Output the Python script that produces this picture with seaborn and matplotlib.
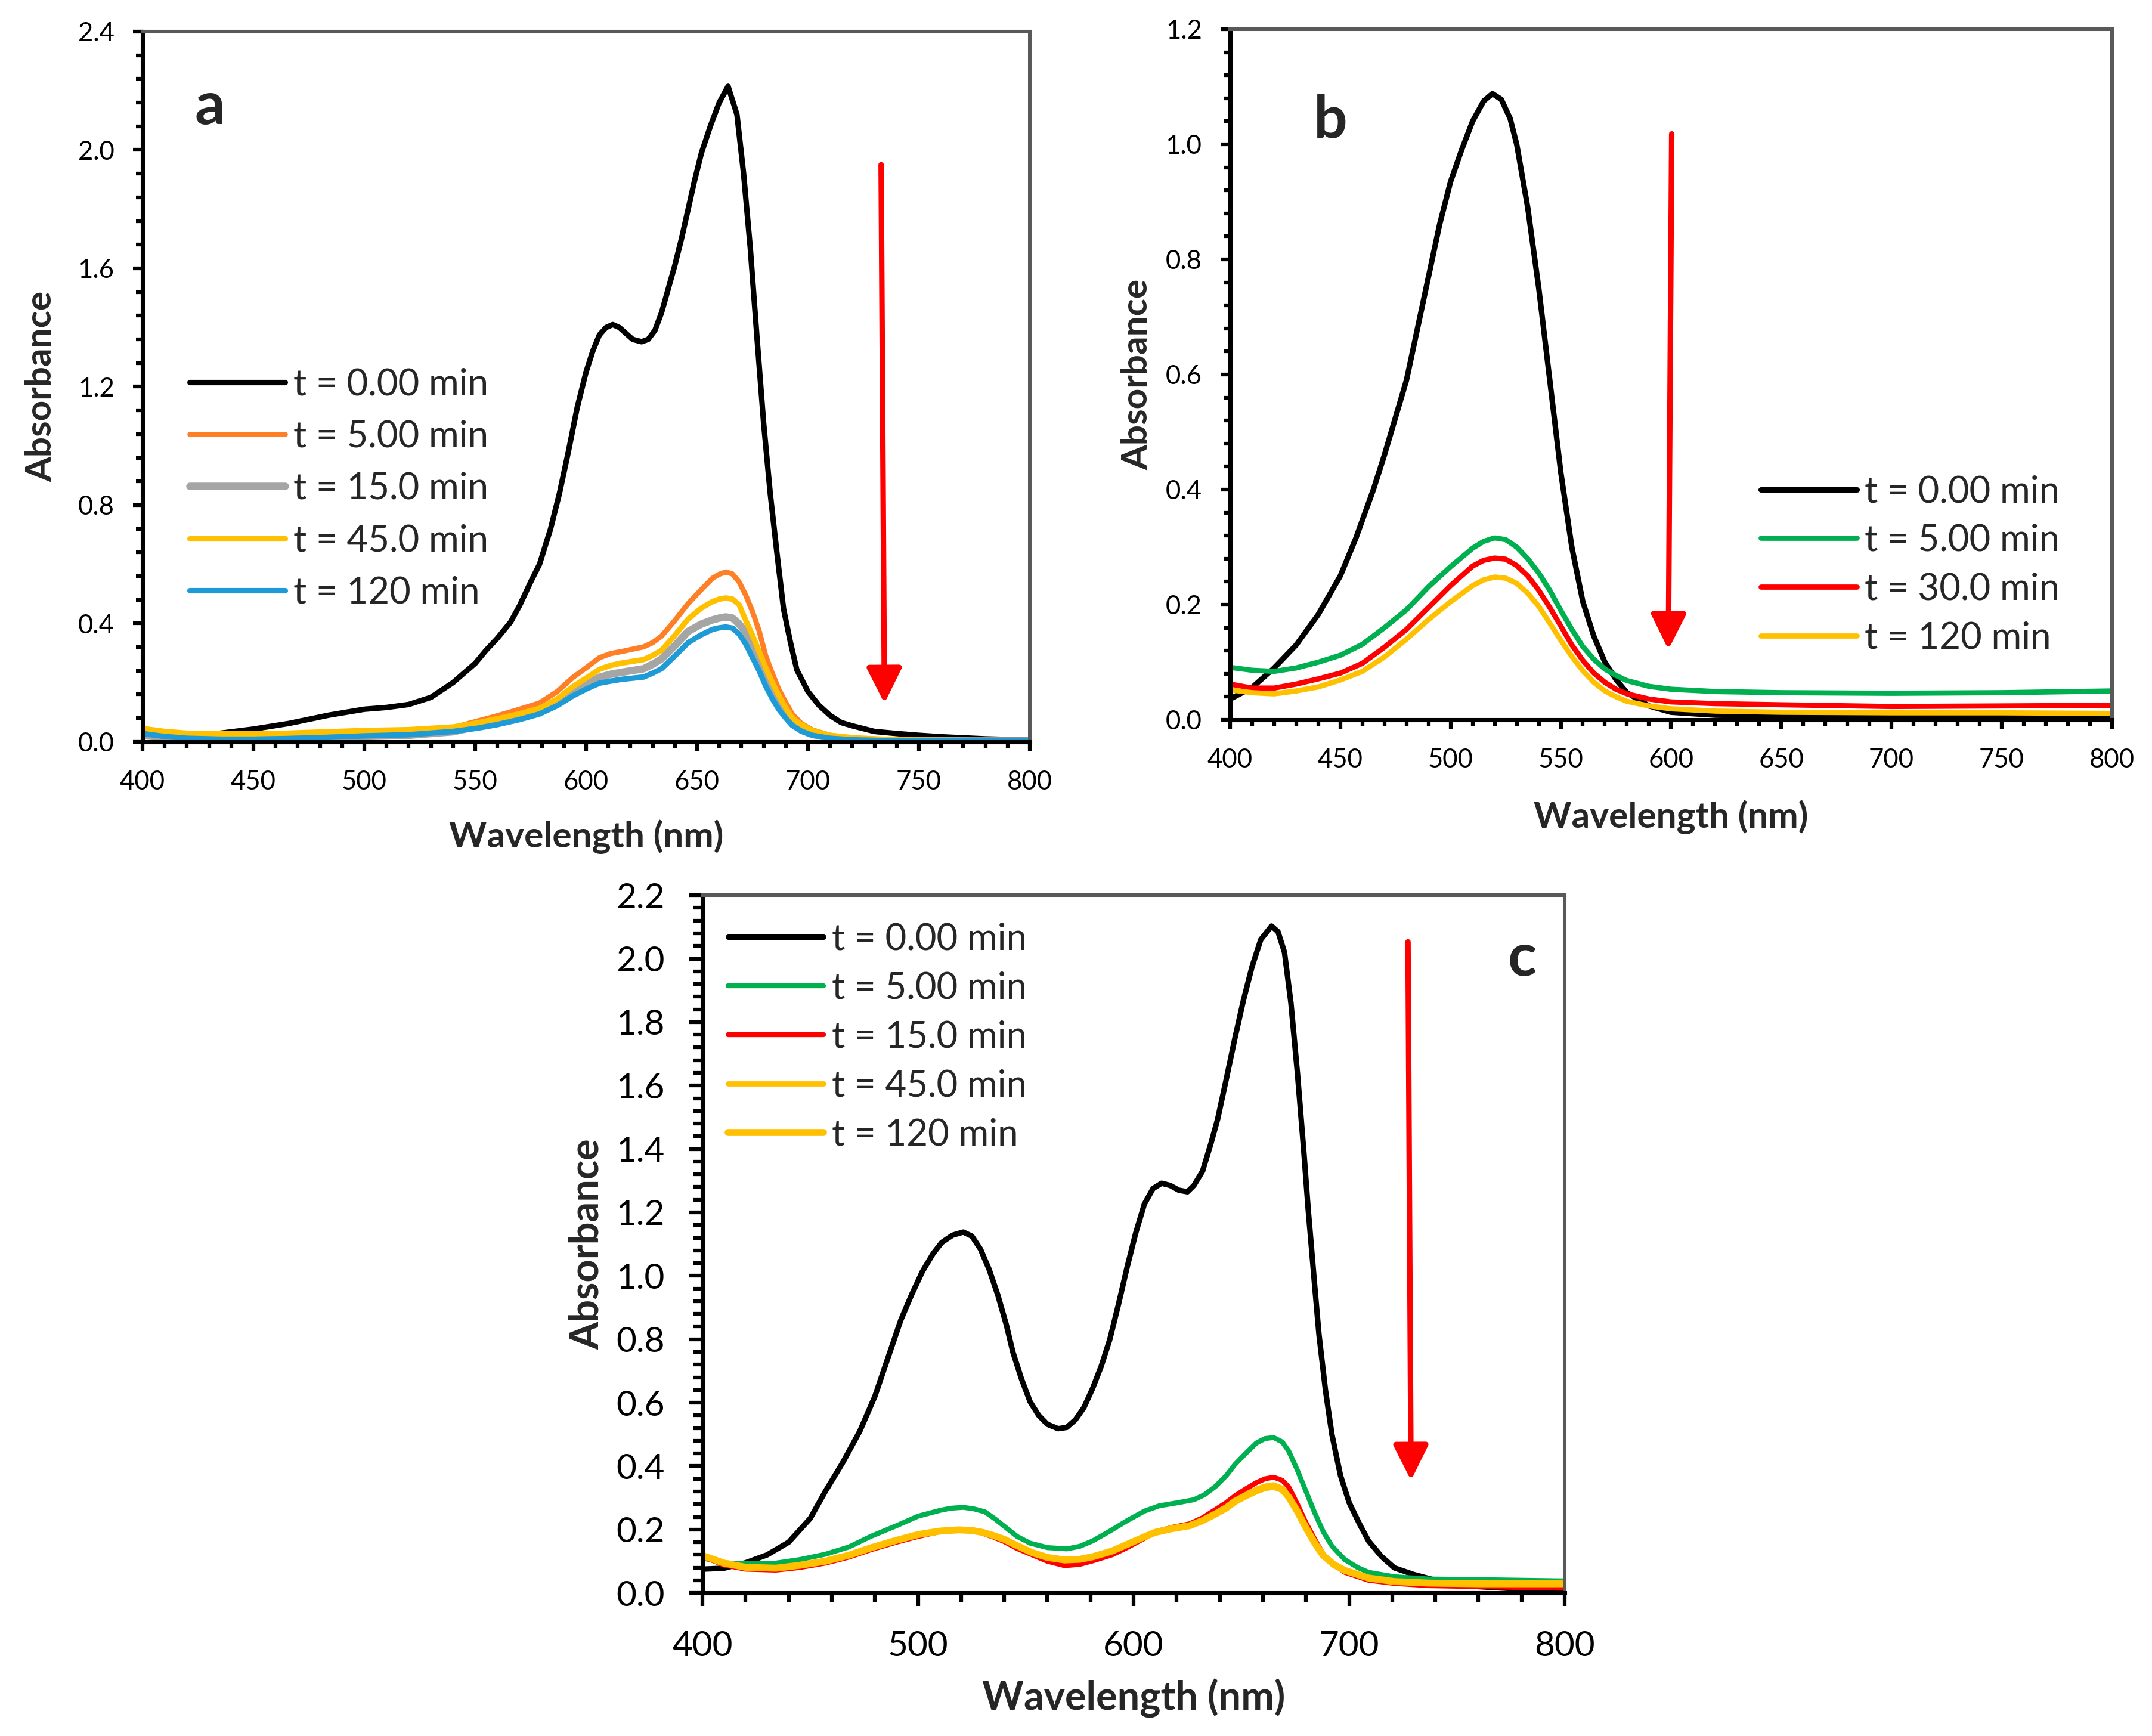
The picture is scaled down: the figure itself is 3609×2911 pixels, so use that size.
import matplotlib
matplotlib.use("Agg")
import matplotlib.pyplot as plt
import seaborn as sns
import pandas as pd
from matplotlib.ticker import MultipleLocator, FormatStrFormatter

# ---------------- data (wavelength nm, absorbance) ----------------
# Panel a
a_labels = ["t = 0.00 min", "t = 5.00 min", "t = 15.0 min", "t = 45.0 min", "t = 120 min"]
a_colors = ["#000000", "#FF7F27", "#A5A5A5", "#FFC000", "#1E9BD7"]
a_t0 = [(400,0.022),(410,0.018),(420,0.018),(434,0.028),(450,0.043),(466,0.062),(484,0.09),(500,0.11),
        (510,0.116),(520,0.126),(530,0.15),(540,0.2),(550,0.265),(555,0.31),(560,0.35),(566,0.405),
        (570,0.46),(575,0.54),(579,0.6),(584,0.72),(588,0.84),(592,0.98),(596,1.13),(600,1.25),
        (603,1.32),(606,1.375),(609,1.40),(612,1.41),(615,1.40),(618,1.38),(621,1.36),(625,1.352),
        (628,1.36),(631,1.39),(634,1.45),(637,1.53),(640,1.61),(643,1.70),(646,1.80),(649,1.90),
        (652,1.99),(656,2.08),(660,2.16),(664,2.215),(668,2.12),(671,1.92),(674,1.67),(677,1.37),
        (680,1.08),(683,0.84),(686,0.64),(689,0.45),(692,0.34),(695,0.243),(700,0.17),(705,0.123),
        (710,0.089),(715,0.065),(720,0.054),(730,0.035),(740,0.028),(750,0.022),(760,0.017),
        (780,0.01),(800,0.006)]
a_t5 = [(400,0.040),(410,0.032),(420,0.026),(435,0.024),(450,0.025),(465,0.028),(480,0.031),(500,0.035),
        (520,0.038),(540,0.048),(551,0.070),(560,0.088),(570,0.110),(579,0.131),(587,0.170),(594,0.217),
        (600,0.250),(606,0.284),(611,0.298),(616,0.305),(621,0.313),(626,0.321),(630,0.335),(634,0.357),
        (640,0.410),(646,0.467),(652,0.515),(657,0.553),(660,0.566),(663,0.574),(666,0.567),(669,0.540),
        (672,0.495),(675,0.44),(678,0.375),(681,0.29),(684,0.23),(687,0.175),(690,0.133),(693,0.093),
        (697,0.062),(702,0.040),(710,0.022),(720,0.012),(735,0.006),(750,0.004),(775,0.003),(800,0.003)]
a_t15 = [(400,0.022),(410,0.014),(420,0.010),(435,0.008),(450,0.008),(465,0.010),(480,0.013),(500,0.018),
         (520,0.022),(540,0.034),(551,0.052),(560,0.066),(570,0.083),(579,0.101),(587,0.132),(594,0.168),
         (600,0.193),(606,0.218),(611,0.228),(616,0.235),(621,0.241),(626,0.247),(630,0.262),(634,0.280),
         (640,0.325),(646,0.373),(652,0.398),(657,0.412),(660,0.418),(663,0.422),(666,0.418),(669,0.398),
         (672,0.37),(675,0.305),(678,0.26),(681,0.205),(684,0.16),(687,0.118),(690,0.087),(693,0.06),
         (697,0.040),(702,0.025),(710,0.013),(720,0.008),(735,0.005),(750,0.004),(775,0.003),(800,0.003)]
a_t45 = [(400,0.045),(410,0.035),(420,0.029),(435,0.027),(450,0.027),(465,0.029),(480,0.033),(500,0.038),
         (520,0.041),(540,0.050),(551,0.064),(560,0.078),(570,0.095),(579,0.113),(587,0.145),(594,0.186),
         (600,0.215),(606,0.245),(611,0.258),(616,0.266),(621,0.272),(626,0.278),(630,0.292),(634,0.309),
         (640,0.360),(646,0.415),(652,0.452),(657,0.474),(660,0.482),(663,0.486),(666,0.482),(669,0.463),
         (672,0.41),(675,0.36),(678,0.305),(681,0.25),(684,0.20),(687,0.155),(690,0.115),(693,0.08),
         (697,0.058),(702,0.038),(710,0.022),(720,0.014),(735,0.008),(750,0.006),(775,0.004),(800,0.004)]
a_t120 = [(400,0.028),(410,0.018),(420,0.012),(435,0.009),(450,0.009),(465,0.011),(480,0.014),(500,0.020),
          (520,0.024),(540,0.035),(551,0.046),(560,0.058),(570,0.075),(579,0.094),(587,0.122),(594,0.155),
          (600,0.178),(606,0.198),(611,0.205),(616,0.211),(621,0.215),(626,0.219),(630,0.232),(634,0.247),
          (640,0.290),(646,0.335),(652,0.362),(657,0.380),(660,0.385),(663,0.388),(666,0.384),(669,0.364),
          (672,0.33),(675,0.285),(678,0.24),(681,0.188),(684,0.145),(687,0.108),(690,0.08),(693,0.055),
          (697,0.036),(702,0.022),(710,0.012),(720,0.007),(735,0.004),(750,0.003),(775,0.003),(800,0.003)]

# Panel b
b_labels = ["t = 0.00 min", "t = 5.00 min", "t = 30.0 min", "t = 120 min"]
b_colors = ["#000000", "#00B050", "#FF0000", "#FFC000"]
b_t0 = [(400,0.036),(410,0.056),(420,0.09),(430,0.13),(440,0.183),(450,0.25),(457,0.315),(465,0.40),
        (470,0.46),(475,0.525),(480,0.59),(485,0.68),(490,0.77),(495,0.86),(500,0.935),(505,0.99),
        (510,1.04),(515,1.075),(519,1.088),(523,1.078),(527,1.045),(530,1.0),(535,0.89),(540,0.75),
        (545,0.59),(550,0.43),(555,0.30),(560,0.205),(565,0.145),(570,0.10),(575,0.07),(580,0.047),
        (590,0.024),(600,0.013),(620,0.008),(650,0.006),(700,0.005),(750,0.004),(800,0.003)]
b_t5 = [(400,0.091),(410,0.086),(420,0.084),(430,0.09),(440,0.10),(450,0.112),(460,0.131),(470,0.16),
        (480,0.191),(490,0.231),(500,0.266),(510,0.298),(515,0.31),(520,0.316),(525,0.313),(530,0.30),
        (535,0.28),(540,0.255),(545,0.225),(550,0.19),(555,0.157),(560,0.127),(565,0.105),(570,0.088),
        (575,0.077),(580,0.068),(590,0.058),(600,0.053),(620,0.049),(650,0.047),(700,0.046),(750,0.047),
        (800,0.05)]
b_t30 = [(400,0.062),(410,0.055),(420,0.055),(430,0.062),(440,0.071),(450,0.081),(460,0.098),(470,0.126),
         (480,0.157),(490,0.195),(500,0.233),(510,0.267),(515,0.277),(520,0.281),(525,0.279),(530,0.268),
         (535,0.25),(540,0.225),(545,0.195),(550,0.163),(555,0.13),(560,0.103),(565,0.081),(570,0.065),
         (575,0.053),(580,0.045),(590,0.036),(600,0.031),(620,0.028),(650,0.026),(700,0.023),(750,0.024),
         (800,0.025)]
b_t120 = [(400,0.052),(410,0.047),(420,0.045),(430,0.05),(440,0.057),(450,0.069),(460,0.084),(470,0.109),
          (480,0.14),(490,0.174),(500,0.205),(510,0.233),(515,0.243),(520,0.248),(525,0.246),(530,0.237),
          (535,0.22),(540,0.197),(545,0.168),(550,0.138),(555,0.11),(560,0.085),(565,0.065),(570,0.05),
          (575,0.04),(580,0.032),(590,0.024),(600,0.019),(620,0.015),(650,0.013),(700,0.012),(750,0.012),
          (800,0.011)]

# Panel c
c_labels = ["t = 0.00 min", "t = 5.00 min", "t = 15.0 min", "t = 45.0 min", "t = 120 min"]
c_colors = ["#000000", "#00B050", "#FF0000", "#FFC000", "#FFC000"]
c_t0 = [(400,0.075),(410,0.078),(420,0.095),(430,0.12),(440,0.16),(450,0.235),(457,0.32),(465,0.41),
        (473,0.51),(480,0.62),(484,0.70),(492,0.86),(497,0.94),(502,1.013),(507,1.07),(511,1.105),
        (516,1.128),(521,1.138),(525,1.125),(529,1.084),(533,1.02),(537,0.94),(541,0.845),(544,0.76),
        (548,0.675),(552,0.603),(556,0.56),(560,0.532),(565,0.518),(569,0.522),(573,0.546),(577,0.585),
        (581,0.645),(585,0.715),(589,0.80),(593,0.91),(597,1.027),(601,1.135),(605,1.226),(609,1.275),
        (613,1.292),(617,1.285),(621,1.27),(625,1.265),(628,1.285),(632,1.33),(636,1.42),(639,1.494),
        (643,1.62),(647,1.749),(651,1.87),(655,1.976),(659,2.06),(664,2.103),(667,2.085),(670,2.02),
        (673,1.86),(676,1.64),(679,1.39),(681,1.21),(684,0.97),(686,0.815),(689,0.64),(692,0.50),
        (696,0.37),(700,0.285),(705,0.215),(709,0.164),(715,0.115),(721,0.079),(730,0.058),(740,0.04),
        (750,0.028),(760,0.02),(780,0.012),(800,0.01)]
c_t5 = [(400,0.11),(410,0.095),(420,0.092),(434,0.094),(445,0.105),(457,0.122),(468,0.145),(478,0.178),
        (490,0.212),(500,0.242),(510,0.26),(515,0.267),(521,0.27),(526,0.265),(531,0.256),(536,0.232),
        (541,0.205),(546,0.178),(552,0.157),(560,0.143),(569,0.139),(575,0.147),(581,0.164),(589,0.195),
        (597,0.228),(605,0.258),(612,0.275),(620,0.284),(628,0.294),(633,0.31),(638,0.336),(643,0.37),
        (647,0.405),(652,0.44),(657,0.473),(661,0.487),(665,0.49),(669,0.476),(672,0.447),(676,0.387),
        (680,0.32),(684,0.253),(688,0.193),(692,0.148),(698,0.105),(704,0.08),(709,0.065),(721,0.051),
        (737,0.044),(760,0.042),(780,0.04),(800,0.038)]
c_t15 = [(400,0.115),(410,0.088),(420,0.075),(434,0.072),(445,0.08),(457,0.094),(468,0.113),(478,0.136),
         (490,0.16),(500,0.178),(510,0.193),(519,0.20),(525,0.197),(530,0.188),(535,0.176),(540,0.162),
         (546,0.14),(553,0.12),(560,0.10),(568,0.086),(575,0.09),(581,0.101),(590,0.12),(597,0.143),
         (605,0.172),(610,0.193),(618,0.207),(626,0.218),(632,0.237),(638,0.263),(643,0.285),(647,0.306),
         (652,0.328),(657,0.348),(661,0.36),(665,0.365),(669,0.355),(672,0.334),(676,0.28),(680,0.221),
         (684,0.17),(688,0.122),(693,0.09),(698,0.065),(709,0.04),(721,0.03),(737,0.023),(760,0.02),
         (780,0.017),(800,0.015)]
c_t45 = [(400,0.12),(410,0.095),(420,0.082),(434,0.079),(445,0.088),(457,0.101),(468,0.12),(478,0.143),
         (490,0.167),(500,0.185),(510,0.196),(519,0.20),(525,0.198),(530,0.192),(535,0.182),(540,0.17),
         (546,0.15),(553,0.128),(560,0.113),(568,0.105),(575,0.107),(581,0.115),(590,0.133),(597,0.154),
         (605,0.178),(610,0.193),(618,0.205),(626,0.214),(632,0.23),(638,0.252),(643,0.272),(647,0.292),
         (652,0.31),(657,0.327),(661,0.337),(665,0.341),(669,0.33),(672,0.306),(676,0.26),(680,0.207),
         (684,0.16),(688,0.119),(693,0.09),(698,0.072),(709,0.048),(721,0.037),(737,0.032),(760,0.03),
         (780,0.03),(800,0.03)]
c_t120 = [(400,0.118),(410,0.094),(420,0.081),(434,0.078),(445,0.087),(457,0.10),(468,0.119),(478,0.142),
          (490,0.166),(500,0.184),(510,0.195),(519,0.199),(525,0.197),(530,0.191),(535,0.181),(540,0.169),
          (546,0.149),(553,0.127),(560,0.112),(568,0.104),(575,0.106),(581,0.114),(590,0.132),(597,0.153),
          (605,0.177),(610,0.191),(618,0.203),(626,0.212),(632,0.228),(638,0.249),(643,0.268),(647,0.288),
          (652,0.306),(657,0.322),(661,0.332),(665,0.336),(669,0.326),(672,0.302),(676,0.257),(680,0.205),
          (684,0.158),(688,0.118),(693,0.089),(698,0.071),(709,0.047),(721,0.036),(737,0.031),(760,0.029),
          (780,0.029),(800,0.029)]

# ---------------- style ----------------
sns.set_style("ticks")
plt.rcParams["font.family"] = ["Lato", "DejaVu Sans"]
plt.rcParams["lines.solid_capstyle"] = "round"
plt.rcParams["lines.solid_joinstyle"] = "round"

W, H, DPI = 3609, 2911, 300
fig = plt.figure(figsize=(W / DPI, H / DPI), dpi=DPI)
fig.patch.set_facecolor("white")


def long_frame(series, labels):
    rows = []
    for lab, pts in zip(labels, series):
        for wl, ab in pts:
            rows.append({"Wavelength": wl, "Absorbance": ab, "series": lab})
    return pd.DataFrame(rows)


def draw_panel(rect, series, labels, colors, widths, ylim, ymaj, ymin, xmaj, xmin,
               tick_fs, lab_fs, tick_len, pad, ylab_x, xlab_y, leg_xy, leg_spacing,
               letter, letter_xy, arrow_from, arrow_to):
    ax = fig.add_axes(rect)
    df = long_frame(series, labels)
    for lab, col, lw in zip(labels, colors, widths):
        sub = df[df["series"] == lab]
        sns.lineplot(data=sub, x="Wavelength", y="Absorbance", ax=ax, color=col,
                     linewidth=lw, label=lab, sort=False, estimator=None)
    ax.set_xlim(400, 800)
    ax.set_ylim(*ylim)
    ax.xaxis.set_major_locator(MultipleLocator(xmaj))
    ax.xaxis.set_minor_locator(MultipleLocator(xmin))
    ax.yaxis.set_major_locator(MultipleLocator(ymaj))
    ax.yaxis.set_minor_locator(MultipleLocator(ymin))
    ax.yaxis.set_major_formatter(FormatStrFormatter("%.1f"))
    ax.xaxis.set_major_formatter(FormatStrFormatter("%d"))
    ax.tick_params(which="major", direction="out", length=tick_len[0], width=1.5,
                   labelsize=tick_fs, pad=pad, colors="black")
    ax.tick_params(which="minor", direction="out", length=tick_len[1], width=1.5, colors="black")
    for s in ("left", "bottom"):
        ax.spines[s].set_color("black")
        ax.spines[s].set_linewidth(1.7)
    for s in ("top", "right"):
        ax.spines[s].set_visible(True)
        ax.spines[s].set_color("#595959")
        ax.spines[s].set_linewidth(1.45)
    ax.set_xlabel("Wavelength (nm)", fontsize=lab_fs, fontweight="bold")
    ax.set_ylabel("Absorbance", fontsize=lab_fs, fontweight="bold")
    ax.xaxis.label.set_va("center")
    ax.yaxis.label.set_va("center")
    ax.xaxis.set_label_coords(0.5, xlab_y)
    ax.yaxis.set_label_coords(ylab_x, 0.5)
    ax.legend(loc="center left", bbox_to_anchor=leg_xy, frameon=False, fontsize=14.8,
              handlelength=2.6, handletextpad=0.22, labelspacing=leg_spacing,
              borderpad=0, borderaxespad=0)
    ax.text(letter_xy[0], letter_xy[1], letter, fontsize=24, fontweight="bold",
            ha="center", va="baseline")
    ax.annotate("", xy=arrow_to, xytext=arrow_from,
                arrowprops=dict(arrowstyle="-|>,head_length=0.4,head_width=0.2",
                                color="#FF0000", lw=2.2, mutation_scale=30,
                                shrinkA=0, shrinkB=0))
    return ax


draw_panel([0.0662, 0.5727, 0.4123, 0.4091],
           [a_t0, a_t5, a_t15, a_t45, a_t120], a_labels, a_colors,
           [2.2, 2.1, 3.0, 2.2, 2.2], (0, 2.4), 0.4, 0.08, 50, 10,
           10.5, 14.5, (3.8, 2.6), 7.5, -0.114, -0.134, (0.053, 0.3564), 0.49,
           "a", (430.4, 2.088), (733, 1.95), (734.5, 0.13))

draw_panel([0.5716, 0.5854, 0.4098, 0.3978],
           [b_t0, b_t5, b_t30, b_t120], b_labels, b_colors,
           [2.2, 2.1, 2.1, 2.1], (0, 1.2), 0.2, 0.04, 50, 10,
           10.5, 14.5, (3.8, 2.6), 7.5, -0.105, -0.141, (0.602, 0.2243), 0.40,
           "b", (445.6, 1.011), (600.3, 1.018), (598.8, 0.122))

draw_panel([0.3264, 0.0824, 0.4007, 0.4019],
           [c_t0, c_t5, c_t15, c_t45, c_t120], c_labels, c_colors,
           [2.2, 2.0, 2.0, 2.1, 2.8], (0, 2.2), 0.2, 0.04, 100, 20,
           14, 16, (5.2, 3.8), 10, -0.1335, -0.151, (0.0297, 0.7966), 0.405,
           "c", (780.4, 1.946), (727.3, 2.053), (728.7, 0.355))

fig.savefig("out.png", dpi=DPI, facecolor="white")
